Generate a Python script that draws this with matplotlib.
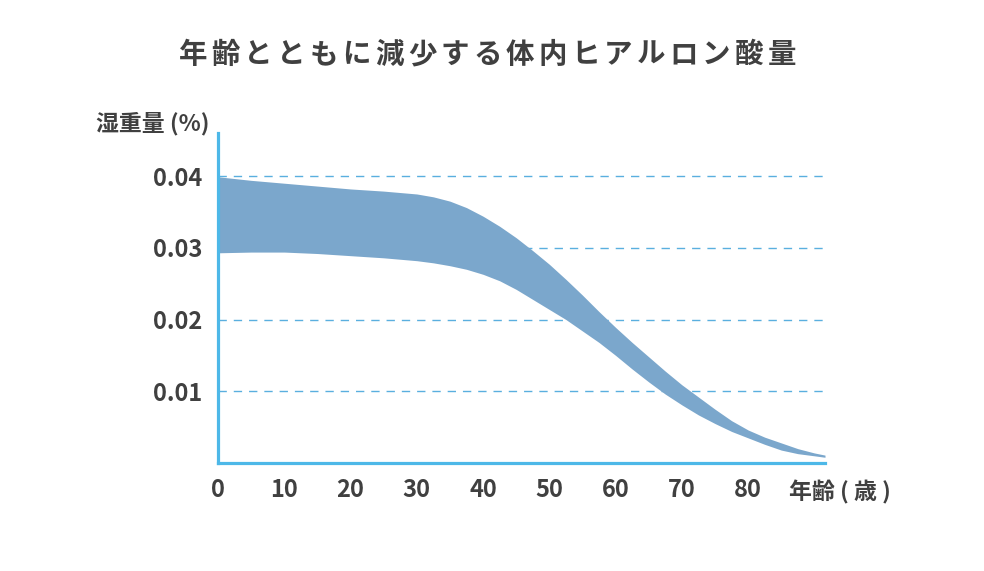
import numpy as np
import matplotlib
matplotlib.use('Agg')
import matplotlib.pyplot as plt

plt.rcParams['font.family'] = ['Noto Sans CJK JP', 'DejaVu Sans']

# data
age = [0, 5, 10, 15, 20, 25, 30, 32.5, 35, 37.5, 40, 42.5, 45, 47.5, 50, 52.5, 55, 57.5, 60,
       62.5, 65, 67.5, 70, 72.5, 75, 77.5, 80, 82.5, 85, 87.5, 90, 91.6]
upper = [0.0399, 0.0394, 0.0390, 0.0386, 0.0382, 0.0379, 0.0375, 0.0371, 0.0365, 0.0356,
         0.0344, 0.0330, 0.0314, 0.0296, 0.0277, 0.0256, 0.0234, 0.0211, 0.0189, 0.0168,
         0.0148, 0.0128, 0.0109, 0.0092, 0.0075, 0.0059, 0.0046, 0.0036, 0.0028, 0.0020,
         0.0014, 0.0011]
lower = [0.0293, 0.0294, 0.0294, 0.0292, 0.0289, 0.0286, 0.0282, 0.0279, 0.0275, 0.0270,
         0.0263, 0.0254, 0.0242, 0.0228, 0.0214, 0.0200, 0.0184, 0.0168, 0.0150, 0.0131,
         0.0113, 0.0096, 0.0081, 0.0067, 0.0055, 0.0044, 0.0035, 0.0026, 0.0018, 0.0013,
         0.0010, 0.0008]

xticks = [0, 10, 20, 30, 40, 50, 60, 70, 80]
yticks = [0.01, 0.02, 0.03, 0.04]
ytick_labels = ['0.01', '0.02', '0.03', '0.04']

title = '年齢とともに減少する体内ヒアルロン酸量'
ylabel = '湿重量 (%)'
xlabel = '年齢 ( 歳 )'

text_col = '#404040'
axis_col = '#4db8e8'
fill_col = '#7ba7cc'
grid_col = '#5aafdf'

W, H = 984, 571
fig = plt.figure(figsize=(W / 100, H / 100), dpi=100)
ax = fig.add_axes([218 / W, (H - 463) / H, (825 - 218) / W, (463 - 133) / H])

ax.fill_between(age, lower, upper, color=fill_col, linewidth=0, zorder=2)
for y in yticks:
    ax.axhline(y, color=grid_col, lw=1, dashes=(6, 5), zorder=1)

ax.set_xlim(0, 91.6)
ax.set_ylim(0, 0.046)
ax.set_xticks(xticks)
ax.set_xticklabels([str(t) for t in xticks])
ax.set_yticks(yticks)
ax.set_yticklabels(ytick_labels)
ax.tick_params(length=0, labelsize=17, labelcolor=text_col)
ax.tick_params(axis='x', pad=11)
ax.tick_params(axis='y', pad=11)
for lab in ax.get_xticklabels() + ax.get_yticklabels():
    lab.set_fontweight('bold')

for s in ['top', 'right']:
    ax.spines[s].set_visible(False)
for s in ['left', 'bottom']:
    ax.spines[s].set_color(axis_col)
    ax.spines[s].set_linewidth(2.3)
    ax.spines[s].set_zorder(3)

# title with wide letter spacing: one glyph per slot
step = 32.7
x0 = 487.5 - step * (len(title) - 1) / 2
for i, ch in enumerate(title):
    fig.text((x0 + i * step) / W, 1 - 55 / H, ch, ha='center', va='center',
             fontsize=20.5, fontweight='bold', color=text_col)

fig.text(210 / W, 1 - 124 / H, ylabel, ha='right', va='center', fontsize=16.5,
         fontweight='bold', color=text_col)
fig.text(789 / W, 1 - 492 / H, xlabel, ha='left', va='center', fontsize=16.5,
         fontweight='bold', color=text_col)

fig.savefig('out.png', dpi=100, facecolor='white')
